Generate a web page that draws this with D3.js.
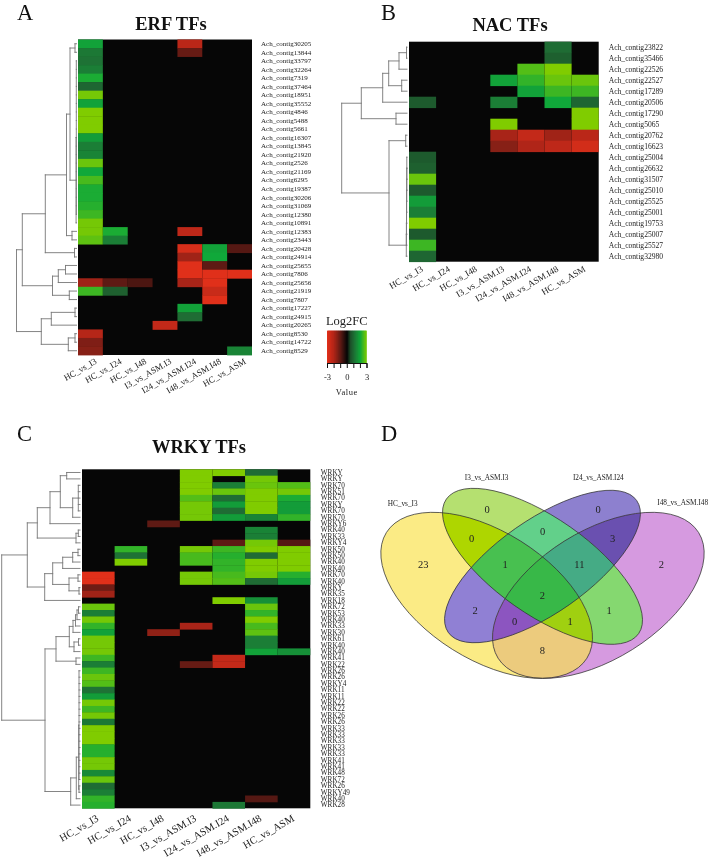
<!DOCTYPE html>
<html><head><meta charset="utf-8">
<script src="https://cdn.jsdelivr.net/npm/d3@7/dist/d3.min.js"></script>
<style>html,body{margin:0;padding:0;background:#fff}svg{display:block}
text{font-family:"Liberation Serif","Times New Roman",serif;fill:#222}</style>
</head><body><div id="chart"></div>
<script>
// ---------- DATA ----------
const comparisons = ["HC_vs_I3","HC_vs_I24","HC_vs_I48","I3_vs_ASM.I3","I24_vs_ASM.I24","I48_vs_ASM.I48","HC_vs_ASM"];

const erfGenes = ["30205","13844","33797","32264","7319","37464","18951","35552","4846","5488","5661","16307","13845","21920","2526","21169","6295","19387","30206","31069","12380","10891","12383","23443","20428","24914","25655","7806","25656","21919","7807","17227","24915","20265","8530","14722","8529"].map(d=>"Ach_contig"+d);
const erfValues = [
[1.9,0,0,0,-2.2,0,0],[1.2,0,0,0,-1.1,0,0],[1.1,0,0,0,0,0,0],[1.3,0,0,0,0,0,0],[2.1,0,0,0,0,0,0],[0.9,0,0,0,0,0,0],
[2.9,0,0,0,0,0,0],[1.9,0,0,0,0,0,0],[3,0,0,0,0,0,0],[3,0,0,0,0,0,0],[3,0,0,0,0,0,0],[1.8,0,0,0,0,0,0],[1.3,0,0,0,0,0,0],
[1.4,0,0,0,0,0,0],[2.8,0,0,0,0,0,0],[2,0,0,0,0,0,0],[2.5,0,0,0,0,0,0],[2.1,0,0,0,0,0,0],[2.1,0,0,0,0,0,0],[2.2,0,0,0,0,0,0],
[2.4,0,0,0,0,0,0],[2.9,0,0,0,0,0,0],[2.9,2.1,0,0,-2.3,0,0],[2.7,1.3,0,0,0,0,0],[0,0,0,0,-2.8,1.9,-0.9],[0,0,0,0,-1.8,2,0],
[0,0,0,0,-3,-1,0],[0,0,0,0,-3,-3,-3],[-1.8,-1,-0.8,0,-1.9,-3,0],[2.4,0.8,0,0,0,-2.5,0],[0,0,0,0,0,-3,0],[0,0,0,0,1.9,0,0],
[0,0,0,0,1,0,0],[0,0,0,-2.4,0,0,0],[-2.1,0,0,0,0,0,0],[-1.4,0,0,0,0,0,0],[-1.5,0,0,0,0,0,1.4]];
const erfTree = [60,[54.2,[31.2,[10,[6.5,[1.5,0,1],[0.4,[0.2,2,3,4,5,6,7,8,9,10,11,12,13,14,15,16,17,18,19,20],21]],[4.5,22,23]],[2,24,25]],[24,[18.2,[11,26,27],28],[7.2,29,30]]],[35.2,[25.2,[1.5,31,32],33],[8.2,[1.5,34,35],36]]];

const nacGenes = ["23822","35466","22526","22527","17289","20506","17290","5065","20762","16623","25004","26632","31507","25010","25525","25001","19753","25007","25527","32980"].map(d=>"Ach_contig"+d);
const nacValues = [
[0,0,0,0,0,1,0],[0,0,0,0,0,0.8,0],[0,0,0,0,2.6,3,0],[0,0,0,1.9,2.3,2.8,2.8],[0,0,0,0,1.9,2.4,2.4],[0.7,0,0,1.3,0,2,0.9],
[0,0,0,0,0,0,3],[0,0,0,3,0,0,3],[0,0,0,-1.9,-2.4,-1.8,-2.2],[0,0,0,-1.5,-2,-2.3,-2.7],[0.7,0,0,0,0,0,0],[0.8,0,0,0,0,0,0],
[2.8,0,0,0,0,0,0],[0.7,0,0,0,0,0,0],[1.8,0,0,0,0,0,0],[1.3,0,0,0,0,0,0],[3,0,0,0,0,0,0],[0.7,0,0,0,0,0,0],[2.4,0,0,0,0,0,0],[0.9,0,0,0,0,0,0]];
const nacTree = [65.3,[45.7,[24.3,[18.3,[8,[0.5,0,1],2],[5.3,3,4]],5],[11,6,7]],[18,[1.3,8,9],[0.7,[0.6,[0.5,[0.45,[0.4,[0.3,[0.25,[0.2,10,11,12],13],14],15],16],17],18],19]]];

const wrkyGenes = ["WRKY","WRKY","WRK70","WRK51","WRK70","WRKY","WRK70","WRK70","WRKY6","WRK40","WRK33","WRKY4","WRK50","WRK50","WRK40","WRK40","WRK70","WRK40","WRKY","WRK35","WRK18","WRK72","WRK53","WRK40","WRK33","WRK30","WRK61","WRK40","WRK40","WRK41","WRK22","WRK26","WRK26","WRKY4","WRK11","WRK11","WRK22","WRK22","WRK26","WRK26","WRK33","WRK33","WRK33","WRK33","WRK33","WRK41","WRK41","WRK48","WRK72","WRK26","WRKY49","WRK40","WRK28"];
const wrkyValues = [
[0,0,0,3,3,1,0],[0,0,0,3,0,2.9,0],[0,0,0,3,1.3,2.8,2.6],[0,0,0,3,2.8,3,2.9],[0,0,0,2.6,1,3,2.1],[0,0,0,2.9,1.8,3,1.8],
[0,0,0,2.9,1,3,1.8],[0,0,0,2.9,1.8,1.4,2.3],[0,0,-1,0,0,0,0],[0,0,0,0,0,1.4,0],[0,0,0,0,0,1.3,0],[0,0,0,0,-1,2.9,-0.9],
[0,2.3,0,2.9,2.4,3,3],[0,1.1,0,2.5,2.2,1,3],[0,3,0,2.5,2.3,3,3],[0,0,0,0,2.3,3,3],[-3,0,0,2.9,2.5,2.9,2.2],[-3,0,0,2.9,2.6,1,1.8],
[-1.2,0,0,0,0,0,0],[-1.8,0,0,0,0,0,0],[0,0,0,0,3,1.6,0],[2.8,0,0,0,0,2.8,0],[1.3,0,0,0,0,2.3,0],[2.9,0,0,0,0,3,0],
[2.3,0,0,-1.9,0,2.5,0],[1.9,0,-1.6,0,0,2.7,0],[2.9,0,0,0,0,1.3,0],[2.9,0,0,0,0,1.3,0],[2.9,0,0,0,0,1.9,1.6],[2.4,0,0,0,-2.4,0,0],
[1.3,0,0,-1.1,-2.4,0,0],[2.4,0,0,0,0,0,0],[2.8,0,0,0,0,0,0],[2.6,0,0,0,0,0,0],[1.1,0,0,0,0,0,0],[1.8,0,0,0,0,0,0],
[2.9,0,0,0,0,0,0],[2.4,0,0,0,0,0,0],[2.9,0,0,0,0,0,0],[1.2,0,0,0,0,0,0],[3,0,0,0,0,0,0],[3,0,0,0,0,0,0],[3,0,0,0,0,0,0],
[2.2,0,0,0,0,0,0],[2.2,0,0,0,0,0,0],[2.9,0,0,0,0,0,0],[2.9,0,0,0,0,0,0],[1.5,0,0,0,0,0,0],[2.8,0,0,0,0,0,0],[1,0,0,0,0,0,0],
[1.3,0,0,0,0,0,0],[2.3,0,0,0,0,-0.9,0],[2.2,0,0,0,1.2,0,0]];
const wrkyTree = [78.3,[52.7,[42.7,[30,[19.7,[13.3,0,1],[7.3,[1.7,2,3,4,5,6],7]],8],[4,[1.7,9,10],11]],[35.3,[27.3,[17.3,[7.3,[2,12,13],14],15],[11,[2,16,17],[1,18,19]]],20]],[35,[24,[10.7,[7,[4.5,[3,[1.5,21,22],23],24],25],[6,[1.5,26,27],28]],[4,29,30]],[9.3,[3.7,[1.3,[1,31,32,33,34,35,36,37,38,39,40,41,42,43,44,45,46,47,48],[1,49,50]],51],52]]];

const vennNames = ["HC_vs_I3","I3_vs_ASM.I3","I24_vs_ASM.I24","I48_vs_ASM.I48"];
const vennRegionSets = [[0],[1],[2],[3],[0,1],[1,2],[2,3],[0,2],[1,3],[0,3],[0,1,3],[0,2,3],[0,1,2],[1,2,3],[0,1,2,3]];
const vennRegionCounts = [23,0,0,2,0,0,3,2,1,8,1,0,1,11,2];
const legendTicks = [-3,-2,-1,0,1,2,3];
const legendLabelled = [-3,0,3];

// ---------- LAYOUT & STYLE ----------
const W=709,H=859;
const svg=d3.select("#chart").append("svg").attr("width",W).attr("height",H).attr("viewBox",`0 0 ${W} ${H}`);
const root=svg.append("g").style("filter","blur(0.35px)");
const color=d3.scaleLinear().domain([-3,-2,-1,0,0.5,1,2,3])
  .range(["#e0301a","#b02518","#5e1a14","#060606","#1c4e28","#1f6c34","#10a83a","#80cc00"]).clamp(true);

const panels=[
 {letter:"A",lx:17,ly:20,title:"ERF TFs",tx:171,ty:30,x0:78,x1:252,y0:39.5,y1:355,genes:erfGenes,values:erfValues,tree:erfTree,
  leaf:76.5,rootX:16.5,rowFont:7,rowGap:9,colFont:8.8,colDx:7,colDy:8},
 {letter:"B",lx:381,ly:20,title:"NAC TFs",tx:510,ty:31,x0:409,x1:598.7,y0:41.7,y1:261.7,genes:nacGenes,values:nacValues,tree:nacTree,
  leaf:407,rootX:341.7,rowFont:7.6,rowGap:10,colFont:9,colDx:1,colDy:9},
 {letter:"C",lx:17,ly:441,title:"WRKY TFs",tx:199,ty:453,x0:82,x1:310.3,y0:469.3,y1:808.3,genes:wrkyGenes,values:wrkyValues,tree:wrkyTree,
  leaf:80,rootX:1.7,rowFont:7.2,rowGap:10.5,colFont:10.5,colDx:1,colDy:12}
];

function drawPanel(p){
  const g=root.append("g");
  const rows=d3.range(p.genes.length), cols=d3.range(comparisons.length);
  const x=d3.scaleBand().domain(cols).range([p.x0,p.x1]);
  const y=d3.scaleBand().domain(rows).range([p.y0,p.y1]);
  g.append("text").attr("x",p.lx).attr("y",p.ly).attr("font-size",22.5).style("fill","#111").text(p.letter);
  g.append("text").attr("x",p.tx).attr("y",p.ty).attr("text-anchor","middle").attr("font-size",18.5).attr("font-weight","bold").style("fill","#111").text(p.title);
  // background then cells, so no pale seams show between neighbouring cells
  g.append("rect").attr("x",p.x0).attr("y",p.y0).attr("width",p.x1-p.x0).attr("height",p.y1-p.y0).attr("fill",color(0));
  const cells=p.values.flatMap((r,i)=>r.map((v,j)=>({i,j,v}))).filter(d=>d.v!==0);
  g.append("g").selectAll("rect").data(cells).join("rect")
    .attr("x",d=>x(d.j)).attr("y",d=>y(d.i)).attr("width",x.bandwidth()).attr("height",y.bandwidth()+.4)
    .attr("fill",d=>color(d.v));
  // row labels
  const ra=g.append("g").attr("transform",`translate(${p.x1+p.rowGap-3},0)`)
    .call(d3.axisRight(y).tickSize(0).tickPadding(3).tickFormat(i=>p.genes[i]));
  ra.select(".domain").remove();
  ra.selectAll("text").attr("font-size",p.rowFont).attr("font-family",null);
  // column labels
  const ca=g.append("g").attr("transform",`translate(0,${p.y1})`)
    .call(d3.axisBottom(x).tickSize(0).tickFormat(j=>comparisons[j]));
  ca.select(".domain").remove();
  ca.selectAll("text").attr("x",0).attr("y",0).attr("dy",0).attr("text-anchor","end")
    .attr("font-size",p.colFont).attr("font-family",null)
    .attr("transform",`translate(${p.colDx},${p.colDy}) rotate(-30)`);
  // dendrogram
  const h=d3.scaleLinear().domain([0,p.tree[0]]).range([p.leaf,p.rootX]);
  const segs=[];
  const rowY=i=>y(i)+y.bandwidth()/2;
  (function walk(n){
    if(typeof n==="number") return {x:p.leaf,y:rowY(n)};
    const kids=n.slice(1).map(walk), nx=h(n[0]);
    kids.forEach(k=>segs.push([nx,k.y,k.x,k.y]));
    segs.push([nx,kids[0].y,nx,kids[kids.length-1].y]);
    return {x:nx,y:(kids[0].y+kids[kids.length-1].y)/2};
  })(p.tree);
  g.append("g").selectAll("line").data(segs).join("line")
    .attr("x1",d=>d[0]).attr("y1",d=>d[1]).attr("x2",d=>d[2]).attr("y2",d=>d[3])
    .attr("stroke","#777").attr("stroke-width",0.9).attr("stroke-linecap","square");
}
panels.forEach(drawPanel);

// legend
(function(){
  const g=root.append("g");
  const x=d3.scaleLinear().domain([-3,3]).range([327,366.5]);
  const steps=d3.range(-3,3,0.1);
  g.append("g").selectAll("rect").data(steps).join("rect")
    .attr("x",d=>x(d)).attr("y",330.7).attr("width",(d,i)=>x(0.1)-x(0)+(i<steps.length-1?0.8:0)).attr("height",32.5).attr("fill",d=>color(d));
  g.append("text").attr("x",x(0)).attr("y",325).attr("text-anchor","middle").attr("font-size",12.5).text("Log2FC");
  const a=g.append("g").attr("transform","translate(0,363)")
    .call(d3.axisBottom(x).tickValues(legendTicks).tickSize(5).tickFormat(d=>legendLabelled.includes(d)?String(d):""));
  a.select(".domain").attr("stroke","#111");
  a.selectAll("line").attr("stroke","#111");
  a.selectAll("text").attr("font-size",8.5).attr("font-family",null).attr("y",11).attr("dy","0.71em");
  g.append("text").attr("x",x(0)).attr("y",395).attr("text-anchor","middle").attr("font-size",8.5).attr("letter-spacing",0.5).text("Value");
})();

// Venn
(function(){
  const g=root.append("g");
  const vx=d3.scaleLinear().domain([0,1047]).range([360,709]);
  const vy=d3.scaleLinear().domain([0,960]).range([420,740]);
  const u=d3.scaleLinear().domain([0,3]).range([0,1]);
  const ell=[{cx:380,cy:526,a:355,b:192,r:32.1},{cx:547.5,cy:439,a:352,b:144.5,r:35},{cx:547.5,cy:439.5,a:345,b:140,r:-35},{cx:715,cy:526,a:355,b:192,r:-32.1}];
  const regionFill=["#fbeb85","#b5e070","#8d80cf","#d69ae0","#aed600","#62d08a","#6a50b0","#9080d4","#85d870","#eccb7d","#a0d010","#8c55c0","#48c050","#45ab85","#38b848"];
  const countPos=[[190,432],[381,267],[714,267],[904,432],[335,355],[548,335],[758,355],[345,570],[747,570],[547,692],[630,605],[464,605],[435,432],[658,432],[547,527]];
  const labelPos=[[128,249],[380,172],[715,172],[968,248]];
  const shape=(s)=>s.attr("cx",0).attr("cy",0).attr("rx",e=>u(e.a)).attr("ry",e=>u(e.b))
     .attr("transform",e=>`translate(${vx(e.cx)},${vy(e.cy)}) rotate(${e.r})`);
  const defs=g.append("defs");
  defs.selectAll("clipPath").data(ell).join("clipPath").attr("id",(e,i)=>"vc"+i).append("ellipse").call(shape);
  const order=d3.range(vennRegionSets.length).sort((a,b)=>vennRegionSets[a].length-vennRegionSets[b].length);
  order.forEach(k=>{
    let cur=g;
    vennRegionSets[k].forEach(s=>{cur=cur.append("g").attr("clip-path",`url(#vc${s})`);});
    cur.append("rect").attr("x",360).attr("y",420).attr("width",349).attr("height",320).attr("fill",regionFill[k]);
  });
  g.selectAll("ellipse.o").data(ell).join("ellipse").attr("class","o").call(shape)
   .attr("fill","none").attr("stroke","#333").attr("stroke-width",0.7);
  g.append("g").selectAll("text").data(vennRegionCounts).join("text")
   .attr("x",(d,i)=>vx(countPos[i][0])).attr("y",(d,i)=>vy(countPos[i][1])+3.6)
   .attr("text-anchor","middle").attr("font-size",10.5).text(d=>d);
  g.append("g").selectAll("text").data(vennNames).join("text")
   .attr("x",(d,i)=>vx(labelPos[i][0])).attr("y",(d,i)=>vy(labelPos[i][1])+2.5)
   .attr("text-anchor","middle").attr("font-size",7.3).text(d=>d);
  g.append("text").attr("x",381).attr("y",441).attr("font-size",22.5).style("fill","#111").text("D");
})();
</script></body></html>
